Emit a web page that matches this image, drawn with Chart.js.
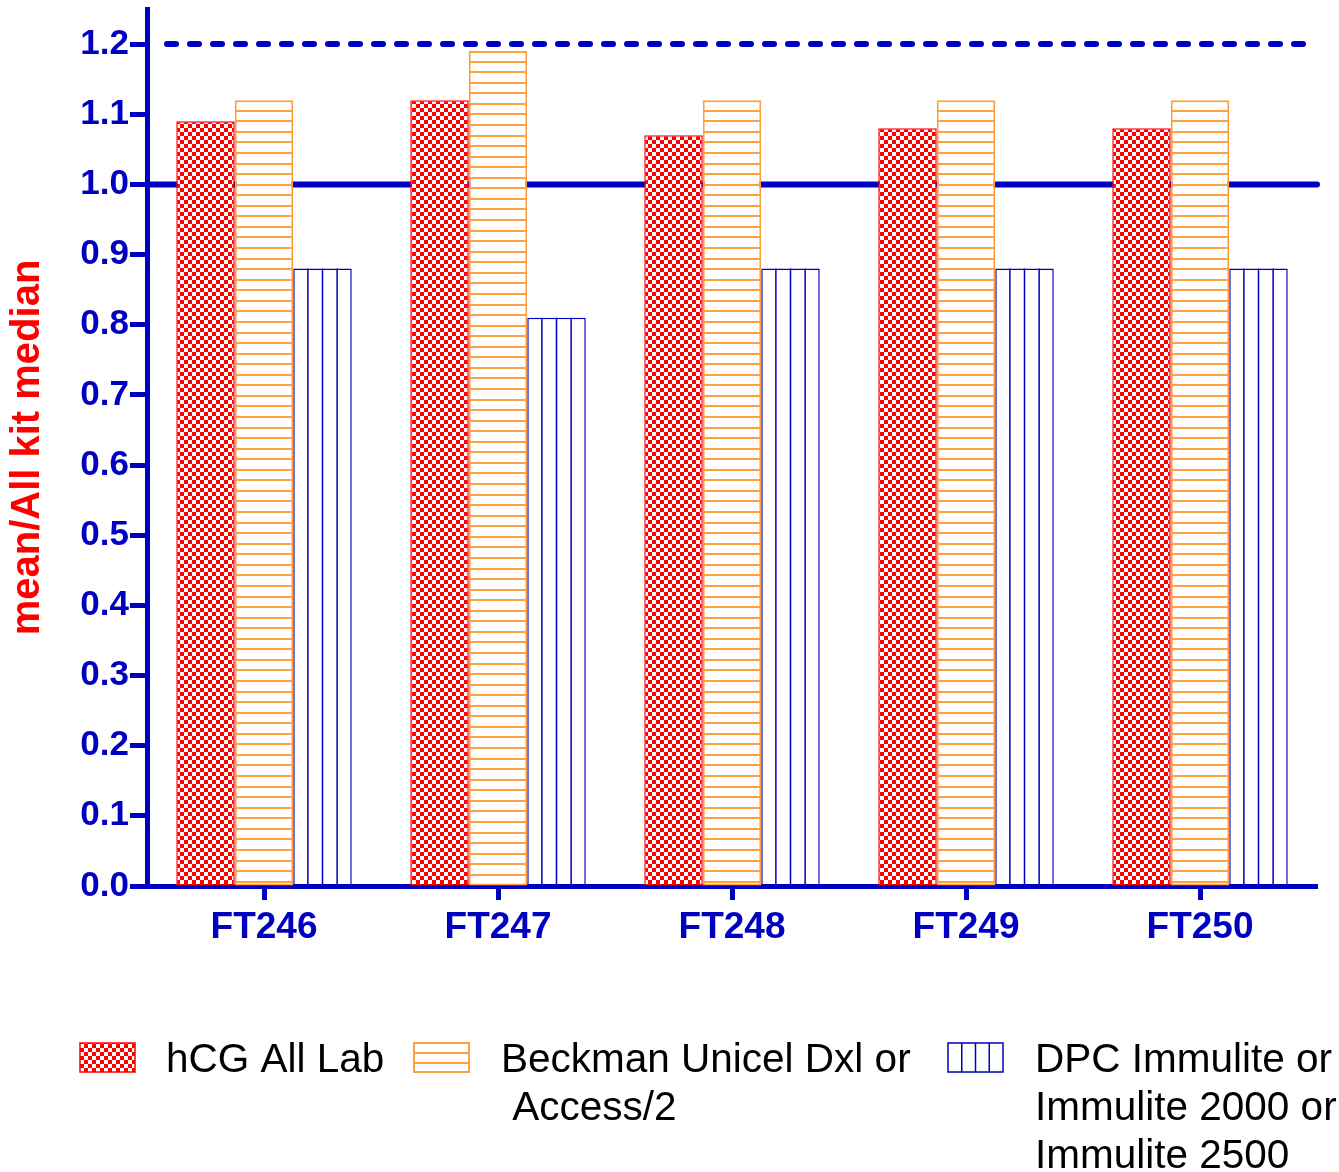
<!DOCTYPE html>
<html>
<head>
<meta charset="utf-8">
<script src="https://cdn.jsdelivr.net/npm/chart.js@4.4.0/dist/chart.umd.min.js"></script>
<style>
  html, body { margin: 0; padding: 0; background: #fff; }
  canvas { display: block; }
</style>
</head>
<body>
<canvas id="kitChart" width="1339" height="1172"></canvas>
<script>
const categories = ["FT246", "FT247", "FT248", "FT249", "FT250"];
const allLab = [1.09, 1.12, 1.07, 1.08, 1.08];
const beckman = [1.12, 1.19, 1.12, 1.12, 1.12];
const dpc = [0.88, 0.81, 0.88, 0.88, 0.88];
const yTicks = [0, 0.1, 0.2, 0.3, 0.4, 0.5, 0.6, 0.7, 0.8, 0.9, 1.0, 1.1, 1.2];
const solidLine = 1.0;
const dashedLine = 1.2;
const seriesNames = [
    ["hCG All Lab"],
    ["Beckman Unicel Dxl or", " Access/2"],
    ["DPC Immulite or", "Immulite 2000 or", "Immulite 2500"]
];

const BLUE = "#0000C0";
const RED = "#FF0000";
const ORANGE = "#FFA040";
const FONT = "'Liberation Sans', Arial, sans-serif";

Chart.defaults.font.family = FONT;

const canvas = document.getElementById("kitChart");
const ctx = canvas.getContext("2d");

// red/white checkerboard fill
function makeChecker() {
    const c = document.createElement("canvas");
    c.width = 8; c.height = 8;
    const g = c.getContext("2d");
    g.fillStyle = "#fff";
    g.fillRect(0, 0, 8, 8);
    g.fillStyle = RED;
    g.fillRect(0, 0, 4, 4);
    g.fillRect(4, 4, 4, 4);
    return ctx.createPattern(c, "repeat");
}
const checker = makeChecker();

function hLines(g, left, right, top, bottom, step) {
    g.save();
    g.strokeStyle = ORANGE;
    g.lineWidth = 2;
    g.beginPath();
    for (let yy = top + step; yy < bottom - 1; yy += step) {
        const r = Math.round(yy);
        g.moveTo(left, r);
        g.lineTo(right, r);
    }
    g.stroke();
    g.restore();
}

function vLines(g, left, right, top, bottom, n) {
    g.save();
    g.strokeStyle = BLUE;
    g.lineWidth = 1.5;
    g.beginPath();
    for (let k = 1; k < n; k++) {
        const xx = left + k * (right - left) / n;
        g.moveTo(xx, top);
        g.lineTo(xx, bottom);
    }
    g.stroke();
    g.restore();
}

// reference lines behind the bars
const refLinesPlugin = {
    id: "refLines",
    beforeDatasetsDraw(chart) {
        const g = chart.ctx;
        const area = chart.chartArea;
        const ys = chart.scales.y;
        g.save();
        g.strokeStyle = BLUE;
        g.lineWidth = 6;
        g.lineCap = "round";
        let yy = ys.getPixelForValue(solidLine);
        g.beginPath();
        g.moveTo(area.left, yy);
        g.lineTo(area.right, yy);
        g.stroke();
        yy = ys.getPixelForValue(dashedLine);
        g.setLineDash([9, 14]);
        g.beginPath();
        g.moveTo(area.left + 20, yy);
        g.lineTo(area.right, yy);
        g.stroke();
        g.restore();
    }
};

// hatching inside the orange and blue bars
const hatchPlugin = {
    id: "hatch",
    afterDatasetsDraw(chart) {
        const g = chart.ctx;
        chart.getDatasetMeta(1).data.forEach(bar => {
            const p = bar.getProps(["x", "y", "base", "width"], true);
            hLines(g, p.x - p.width / 2 + 1, p.x + p.width / 2 - 1, p.y, p.base, 10.56);
        });
        chart.getDatasetMeta(2).data.forEach(bar => {
            const p = bar.getProps(["x", "y", "base", "width"], true);
            vLines(g, p.x - p.width / 2, p.x + p.width / 2, p.y, p.base, 4);
        });
    }
};

// legend below the plot, with wrapped labels
const legendPlugin = {
    id: "bottomLegend",
    afterDraw(chart) {
        const g = chart.ctx;
        const boxX = [80, 414, 948];
        const textX = [166, 501, 1035];
        const boxY = 1043, boxW = 55, boxH = 29;
        g.save();
        // red
        g.fillStyle = checker;
        g.fillRect(boxX[0], boxY, boxW, boxH);
        g.strokeStyle = RED;
        g.lineWidth = 1.5;
        g.strokeRect(boxX[0], boxY, boxW, boxH);
        // orange
        g.fillStyle = "#fff";
        g.fillRect(boxX[1], boxY, boxW, boxH);
        hLines(g, boxX[1], boxX[1] + boxW, boxY, boxY + boxH, 10);
        g.strokeStyle = ORANGE;
        g.lineWidth = 2;
        g.strokeRect(boxX[1], boxY, boxW, boxH);
        // blue
        g.strokeStyle = BLUE;
        g.lineWidth = 1.5;
        g.strokeRect(boxX[2], boxY, boxW, boxH);
        vLines(g, boxX[2], boxX[2] + boxW, boxY, boxY + boxH, 4);

        g.fillStyle = "#000";
        g.font = "40.5px " + FONT;
        g.textBaseline = "alphabetic";
        seriesNames.forEach((lines, i) => {
            lines.forEach((t, k) => g.fillText(t, textX[i], 1072 + k * 48));
        });
        g.restore();
    }
};

new Chart(ctx, {
    type: "bar",
    data: {
        labels: categories,
        datasets: [
            { label: seriesNames[0].join(" "), data: allLab, backgroundColor: checker,
              borderColor: RED, borderWidth: 1.5, borderSkipped: false },
            { label: seriesNames[1].join(" "), data: beckman, backgroundColor: "#fff",
              borderColor: ORANGE, borderWidth: 2, borderSkipped: false },
            { label: seriesNames[2].join(" "), data: dpc, backgroundColor: "#fff",
              borderColor: BLUE, borderWidth: 1.5, borderSkipped: false }
        ]
    },
    options: {
        responsive: false,
        animation: false,
        devicePixelRatio: 1,
        categoryPercentage: 0.75,
        barPercentage: 1.0,
        layout: { padding: { left: 0, right: 22, top: 9, bottom: 226 } },
        plugins: { legend: { display: false }, tooltip: { enabled: false } },
        scales: {
            x: {
                offset: true,
                grid: { offset: false, drawOnChartArea: false, tickLength: 14, tickWidth: 5, tickColor: BLUE },
                border: { color: BLUE, width: 5 },
                ticks: { color: BLUE, font: { size: 37, weight: "bold" }, padding: 6, maxRotation: 0 },
                afterFit: s => { s.height = 60; s.paddingLeft = 0; s.paddingRight = 0; }
            },
            y: {
                min: 0,
                max: 1.25,
                afterBuildTicks: s => { s.ticks = yTicks.map(v => ({ value: v })); },
                grid: { drawOnChartArea: false, tickLength: 17, tickWidth: 5, tickColor: BLUE },
                border: { color: BLUE, width: 5 },
                ticks: { color: BLUE, font: { size: 35, weight: "bold" }, padding: 1,
                         callback: v => Number(v).toFixed(1) },
                title: { display: true, text: "mean/All kit median", color: RED,
                         font: { size: 40, weight: "bold" }, padding: { top: 4, bottom: 0 } },
                afterFit: s => { s.width = 147; s.paddingTop = 0; s.paddingBottom = 0; }
            }
        }
    },
    plugins: [refLinesPlugin, hatchPlugin, legendPlugin]
});
</script>
</body>
</html>
